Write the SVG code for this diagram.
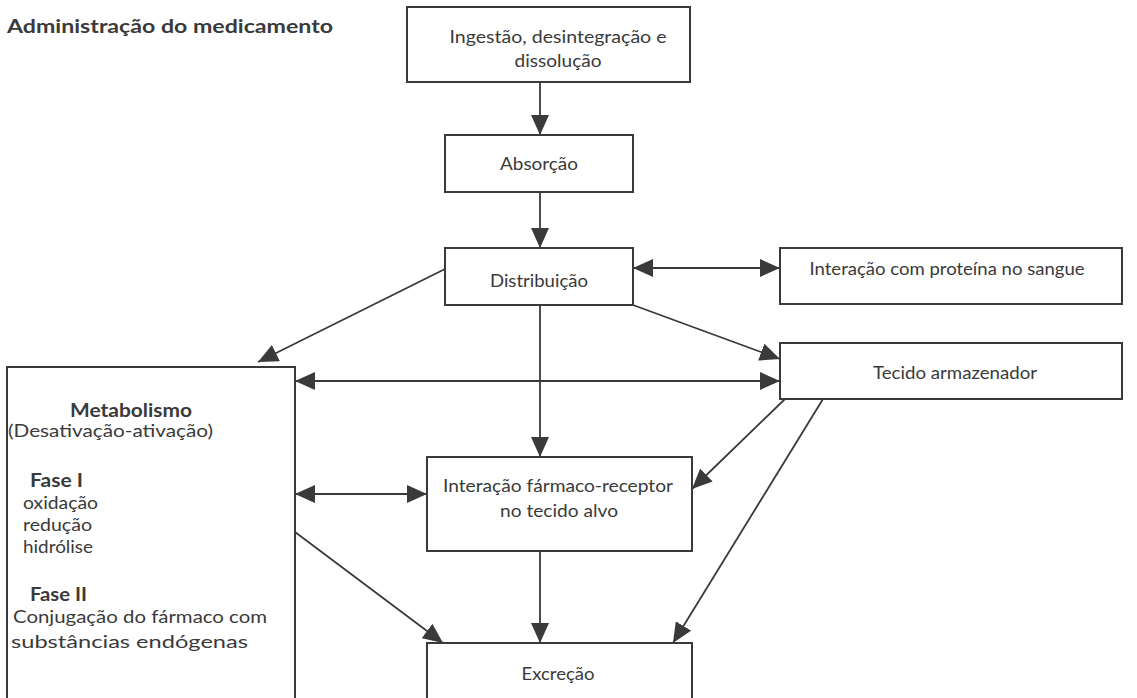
<svg xmlns="http://www.w3.org/2000/svg" width="1137" height="698" viewBox="0 0 1137 698">
<style>
.box{fill:#fff;stroke:#3a3a3a;stroke-width:2}
.t{font-family:Lato,"Open Sans","Liberation Sans",sans-serif;font-size:18px;fill:#3a3a3a}
.m{font-size:18px}
.b{font-weight:bold}
.c{text-anchor:middle}
.ln{stroke:#3a3a3a;stroke-width:1.8;fill:none}
</style>
<defs>
<marker id="ah" markerUnits="userSpaceOnUse" markerWidth="20" markerHeight="18" refX="20" refY="9" orient="auto-start-reverse" viewBox="0 0 20 18">
<path d="M0,0 L20,9 L0,18 z" fill="#3a3a3a"/>
</marker>
</defs>
<rect width="1137" height="698" fill="#fff"/>
<text x="7" y="33" class="t b" style="font-size:19px" textLength="326" lengthAdjust="spacingAndGlyphs">Administração do medicamento</text>
<g id="connectors">
<line class="ln" x1="540" y1="82" x2="540" y2="135" marker-end="url(#ah)"/>
<line class="ln" x1="540" y1="192" x2="540" y2="248" marker-end="url(#ah)"/>
<line class="ln" x1="633" y1="268" x2="780" y2="268" marker-start="url(#ah)" marker-end="url(#ah)"/>
<line class="ln" x1="445" y1="269" x2="258" y2="362" marker-end="url(#ah)"/>
<line class="ln" x1="633" y1="305" x2="780" y2="359" marker-end="url(#ah)"/>
<line class="ln" x1="295" y1="381" x2="780" y2="381" marker-start="url(#ah)" marker-end="url(#ah)"/>
<line class="ln" x1="540" y1="305" x2="540" y2="457" marker-end="url(#ah)"/>
<line class="ln" x1="295" y1="494" x2="427" y2="494" marker-start="url(#ah)" marker-end="url(#ah)"/>
<line class="ln" x1="295" y1="532" x2="443" y2="643" marker-end="url(#ah)"/>
<line class="ln" x1="540" y1="551" x2="540" y2="643" marker-end="url(#ah)"/>
<line class="ln" x1="785" y1="399" x2="692" y2="489" marker-end="url(#ah)"/>
<line class="ln" x1="823" y1="399" x2="673" y2="643" marker-end="url(#ah)"/>
</g>
<g id="ingestao">
<rect class="box" x="407" y="7" width="283" height="75"/>
<text class="t c" x="558" y="43" textLength="217" lengthAdjust="spacingAndGlyphs">Ingestão, desintegração e</text>
<text class="t c" x="558" y="67" textLength="87" lengthAdjust="spacingAndGlyphs">dissolução</text>
</g>
<g id="absorcao">
<rect class="box" x="445" y="135" width="188" height="57"/>
<text class="t c" x="539" y="170" textLength="78" lengthAdjust="spacingAndGlyphs">Absorção</text>
</g>
<g id="distribuicao">
<rect class="box" x="445" y="248" width="188" height="57"/>
<text class="t c" x="539" y="287" textLength="98" lengthAdjust="spacingAndGlyphs">Distribuição</text>
</g>
<g id="proteina">
<rect class="box" x="780" y="248" width="342" height="56"/>
<text class="t c" x="947" y="275" textLength="275" lengthAdjust="spacingAndGlyphs">Interação com proteína no sangue</text>
</g>
<g id="tecido">
<rect class="box" x="780" y="343" width="342" height="56"/>
<text class="t c" x="955" y="379" textLength="164" lengthAdjust="spacingAndGlyphs">Tecido armazenador</text>
</g>
<g id="metabolismo">
<rect class="box" x="7" y="367" width="288" height="340"/>
<text class="t m b" x="70" y="417" textLength="122" lengthAdjust="spacingAndGlyphs">Metabolismo</text>
<text class="t m" x="8" y="437" textLength="205" lengthAdjust="spacingAndGlyphs">(Desativação-ativação)</text>
<text class="t m b" x="30" y="487" textLength="53" lengthAdjust="spacingAndGlyphs">Fase I</text>
<text class="t m" x="23" y="509" textLength="75" lengthAdjust="spacingAndGlyphs">oxidação</text>
<text class="t m" x="23" y="531" textLength="69" lengthAdjust="spacingAndGlyphs">redução</text>
<text class="t m" x="23" y="553" textLength="70" lengthAdjust="spacingAndGlyphs">hidrólise</text>
<text class="t m b" x="30" y="601" textLength="57" lengthAdjust="spacingAndGlyphs">Fase II</text>
<text class="t m" x="13" y="623" textLength="254" lengthAdjust="spacingAndGlyphs">Conjugação do fármaco com</text>
<text class="t m" x="11" y="648" textLength="237" lengthAdjust="spacingAndGlyphs">substâncias endógenas</text>
</g>
<g id="receptor">
<rect class="box" x="427" y="457" width="265" height="94"/>
<text class="t c" x="558" y="492" textLength="230" lengthAdjust="spacingAndGlyphs">Interação fármaco-receptor</text>
<text class="t c" x="559" y="517" textLength="118" lengthAdjust="spacingAndGlyphs">no tecido alvo</text>
</g>
<g id="excrecao">
<rect class="box" x="427" y="643" width="265" height="70"/>
<text class="t c" x="558" y="680" textLength="73" lengthAdjust="spacingAndGlyphs">Excreção</text>
</g>
</svg>
